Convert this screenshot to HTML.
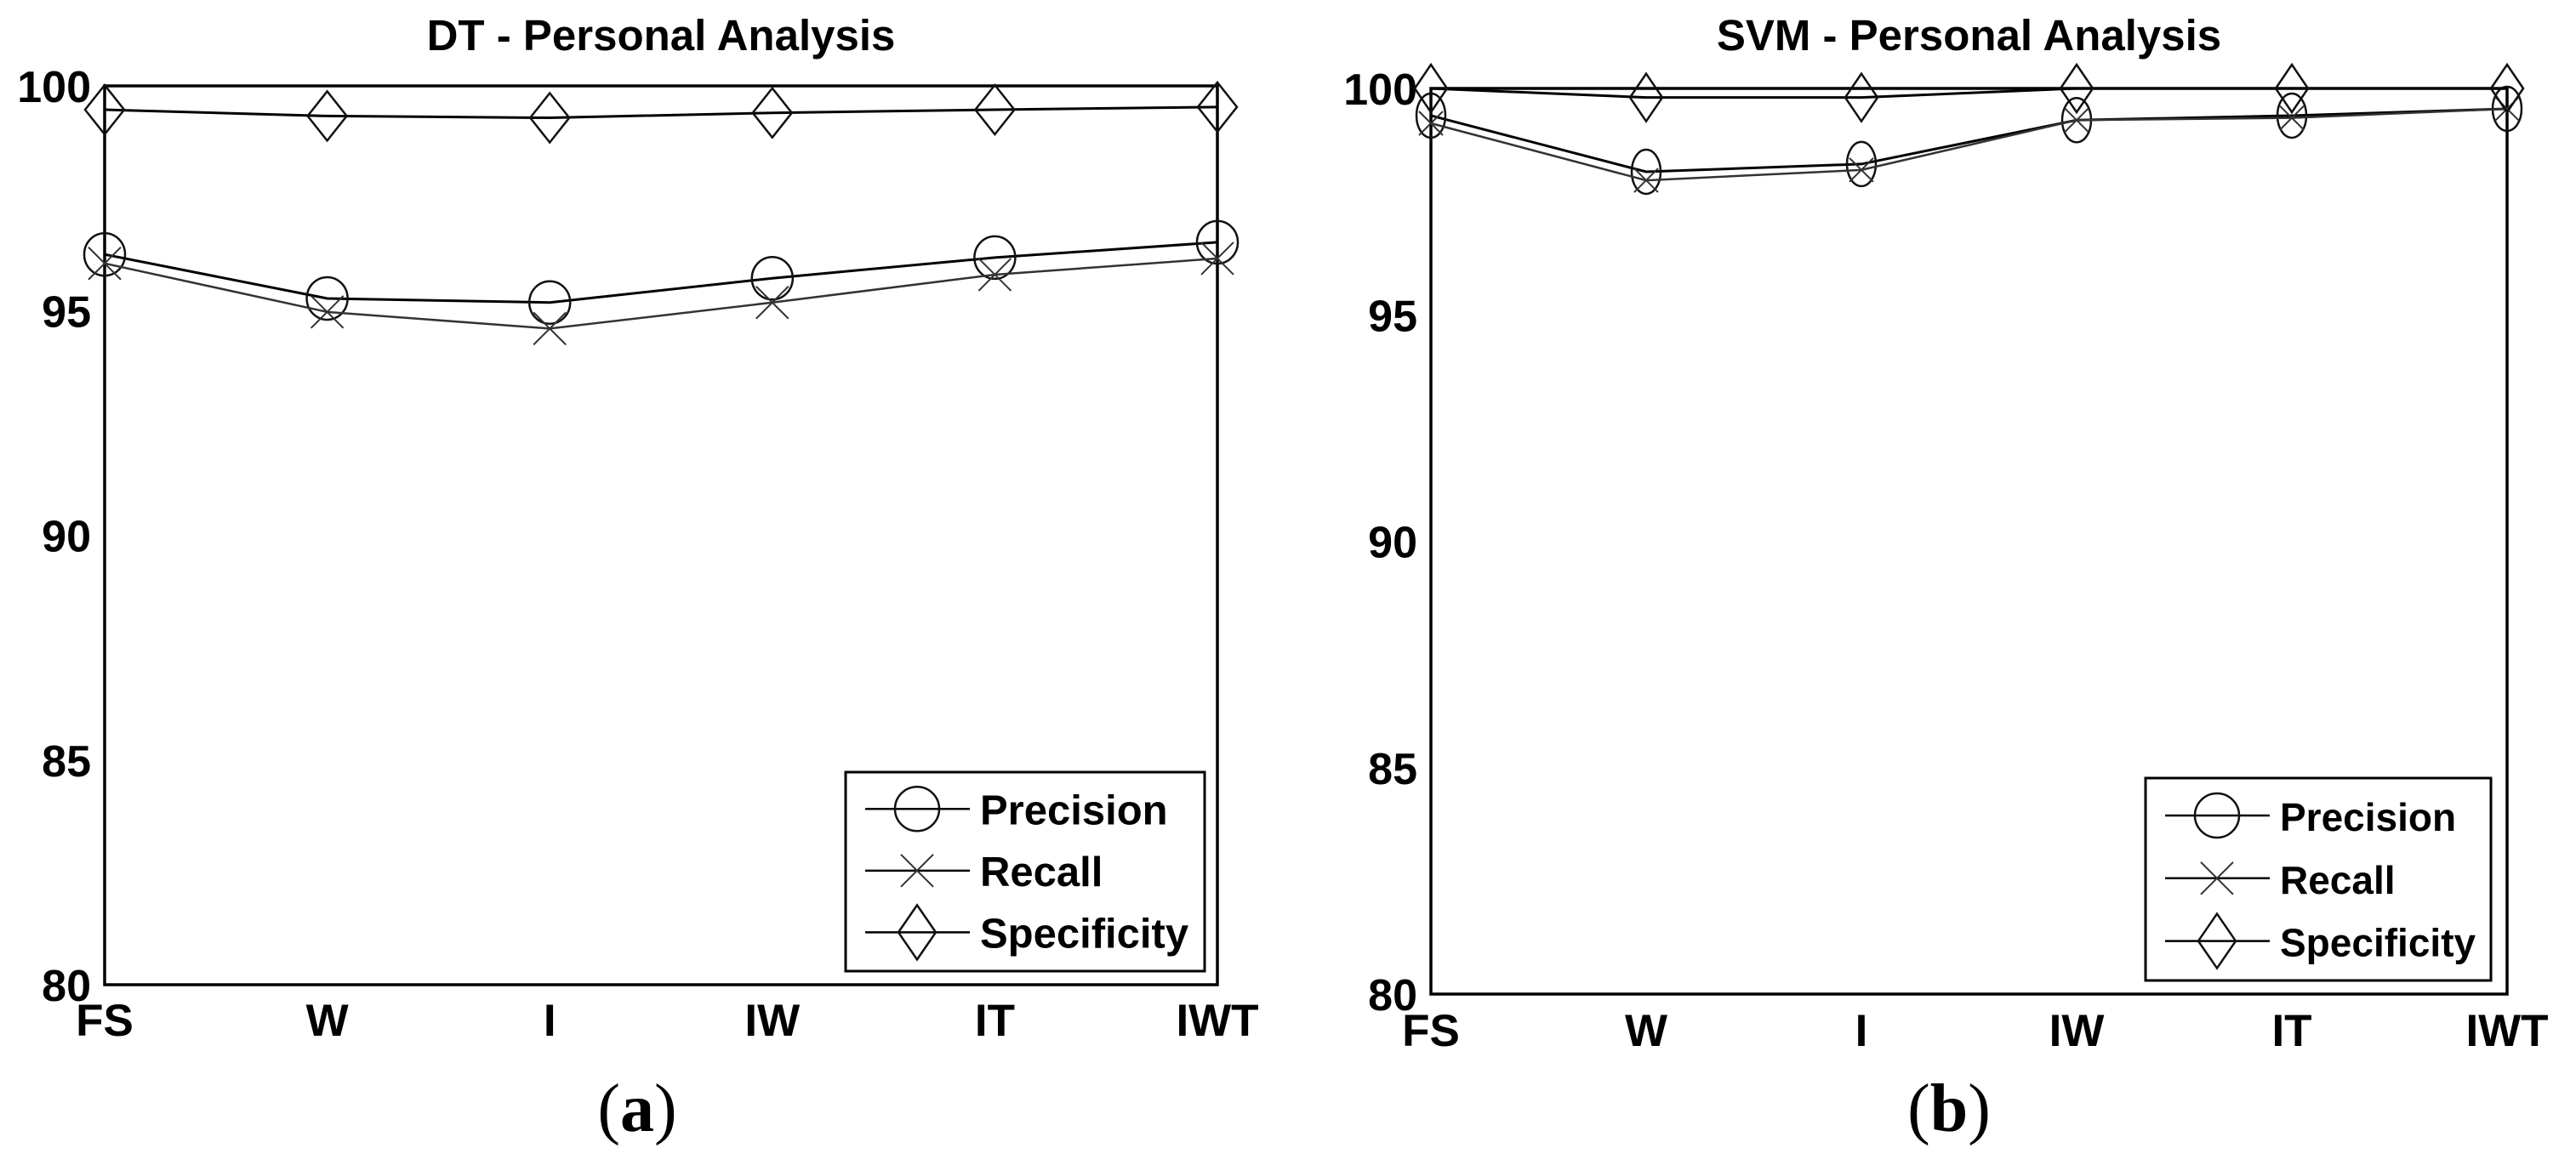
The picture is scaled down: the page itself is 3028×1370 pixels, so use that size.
<!DOCTYPE html>
<html><head><meta charset="utf-8"><style>
body{margin:0;background:#fff;}
svg{display:block;}
text{fill:#000;}
</style></head><body>
<svg id="svg" width="3028" height="1370" viewBox="0 0 3028 1370" xmlns="http://www.w3.org/2000/svg"></svg>
<script>
const categories = ["FS","W","I","IW","IT","IWT"];
const yTicks = [80,85,90,95,100];
const seriesNames = ["Precision","Recall","Specificity"];
const dtPrecision = [96.25,95.27,95.18,95.72,96.18,96.52];
const dtRecall = [96.05,94.97,94.6,95.18,95.8,96.16];
const dtSpecificity = [99.47,99.33,99.29,99.4,99.47,99.53];
const svmPrecision = [99.4,98.16,98.33,99.3,99.4,99.55];
const svmRecall = [99.23,97.97,98.2,99.3,99.35,99.55];
const svmSpecificity = [100,99.8,99.8,100,100,100];

const NS = "http://www.w3.org/2000/svg";
const svg = document.getElementById('svg');
const SANS = 'font-family:"Liberation Sans", sans-serif;font-weight:bold';
function mk(tag, attrs, parent){
  const e = document.createElementNS(NS, tag);
  for (const k in attrs) e.setAttribute(k, attrs[k]);
  (parent||svg).appendChild(e);
  return e;
}

function marker(g, type, cx, cy, s){
  let m;
  if (type === 0){
    m = mk('ellipse',{cx:cx,cy:cy,rx:s.crx,ry:s.cry,fill:'none',stroke:'#111','stroke-width':2.5},g);
  } else if (type === 1){
    const d = s.xs;
    m = mk('path',{d:`M${cx-d},${cy-d}L${cx+d},${cy+d}M${cx-d},${cy+d}L${cx+d},${cy-d}`,fill:'none',stroke:'#333','stroke-width':2},g);
  } else {
    m = mk('path',{d:`M${cx},${cy-s.dry}L${cx+s.drx},${cy}L${cx},${cy+s.dry}L${cx-s.drx},${cy}Z`,fill:'none',stroke:'#111','stroke-width':2.5},g);
  }
  return m;
}

function chart(cfg){
  const g = mk('g',{});
  
  
  const L=cfg.L,R=cfg.R,T=cfg.T,B=cfg.B;
  const xs = i => L + (R-L)*i/(categories.length-1);
  const ys = v => B - (v-80)/20*(B-T);
  const title = mk('text',{x:(L+R)/2,y:cfg.titleY,'text-anchor':'middle','font-size':51,style:SANS},g);
  title.textContent = cfg.title;
  
  
  const box = mk('rect',{x:L,y:T,width:R-L,height:B-T,fill:'none',stroke:'#000','stroke-width':3.5},g);
  
  
  yTicks.forEach(v=>{
    const t = mk('text',{x:L-16,y:ys(v)+19,'text-anchor':'end','font-size':52,style:SANS},g);
    t.textContent = v;
    
    
  });
  categories.forEach((c,i)=>{
    const t = mk('text',{x:xs(i),y:cfg.xLabY,'text-anchor':'middle','font-size':53,style:SANS},g);
    t.textContent = c;
    
    
  });
  cfg.series.forEach((arr,si)=>{
    const sg = mk('g',{},g);
    
    
    const pts = arr.map((v,i)=>xs(i)+','+ys(v)).join(' ');
    const line = mk('polyline',{points:pts,fill:'none',stroke:si===1?'#333':'#000','stroke-width':si===1?2.5:3},sg);
    
    
    arr.forEach((v,i)=>{
      const m = marker(sg, si, xs(i), ys(v), cfg.ms);
      
      
    });
  });
  const lg = mk('g',{},g);
  
  
  const lb = cfg.leg;
  mk('rect',{x:lb.x,y:lb.y,width:lb.w,height:lb.h,fill:'#fff',stroke:'#000','stroke-width':3},lg);
  seriesNames.forEach((n,i)=>{
    const ey = lb.y + lb.h*(0.185 + i*0.31);
    const eg = mk('g',{},lg);
    
    
    mk('line',{x1:lb.x+23,x2:lb.x+146,y1:ey,y2:ey,stroke:'#000','stroke-width':2.5},eg);
    marker(eg, i, lb.x+84, ey, {crx:26,cry:26,xs:19,drx:22,dry:32});
    const t = mk('text',{x:lb.x+158,y:ey+18,'font-size':cfg.legFont,style:SANS},eg);
    t.textContent = n;
  });
  const cap = mk('text',{x:cfg.capX,y:1330,'text-anchor':'middle','font-size':80,style:'font-family:"Liberation Serif", serif'},g);
  
  
  const p1 = mk('tspan',{},cap); p1.textContent='(';
  const p2 = mk('tspan',{'font-weight':'bold'},cap); p2.textContent=cfg.cap;
  const p3 = mk('tspan',{},cap); p3.textContent=')';
}

chart({name:'dt-chart',title:'DT - Personal Analysis',L:123,R:1431,T:101,B:1158,titleY:59,xLabY:1218,
  series:[dtPrecision,dtRecall,dtSpecificity],ms:{crx:24,cry:25,xs:19,drx:23,dry:29},
  leg:{x:994,y:908,w:422,h:234},legFont:49,capX:749,cap:'a'});
chart({name:'svm-chart',title:'SVM - Personal Analysis',L:1682,R:2947,T:104,B:1169,titleY:59,xLabY:1230,
  series:[svmPrecision,svmRecall,svmSpecificity],ms:{crx:17,cry:26,xs:14,drx:19,dry:28},
  leg:{x:2522,y:915,w:406,h:238},legFont:46,capX:2291,cap:'b'});
</script>
</body></html>
